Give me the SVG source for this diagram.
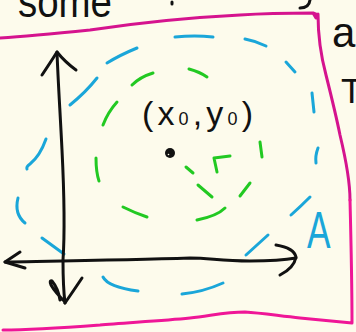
<svg xmlns="http://www.w3.org/2000/svg" width="356" height="332" viewBox="0 0 356 332">
<style>
.ink{fill:none;stroke:#111;stroke-width:3;stroke-linecap:round;stroke-linejoin:round}
.blue{fill:none;stroke:#1AA6D9;stroke-width:3;stroke-linecap:round}
.green{fill:none;stroke:#22C922;stroke-width:3;stroke-linecap:round;stroke-linejoin:round}
.pink{fill:none;stroke-width:3;stroke-linecap:round;stroke-linejoin:round}
.hand{font-family:"Liberation Sans","DejaVu Sans",sans-serif;fill:#111}
</style>
<rect width="356" height="332" fill="#FDFBEC"/>
<g id="top-text">
<text class="hand" x="18" y="17" font-size="44" textLength="94" lengthAdjust="spacingAndGlyphs">some</text>
<path class="ink" d="M172 2 L172 4"/>
<path class="ink" d="M310 0 Q309 8 300 8"/>
</g>
<g id="frame">
<path class="pink" stroke="#D5138E" d="M0 38 C30 36 60 33 90 30 C130 24 180 18 240 15 C270 13 295 13 313 13 L318 15 M313 13 L316 18 M318 14 C318 40 322 60 326 75 C331 95 336 115 340 135 C346 160 350 180 350 200"/>
<path class="pink" stroke="#EF1697" d="M350 200 C351 240 352 290 352 323 C340 322 320 320 300 318 C280 316 262 313 245 312 C225 312 210 316 190 318 C160 321 120 323 100 325 C60 328 30 330 3 330"/>
</g>
<g id="blue-circle">
<path class="blue" d="M175 37 Q195 35 213 37"/>
<path class="blue" d="M245 39 Q256 41 266 46"/>
<path class="blue" d="M286 62 L295 72"/>
<path class="blue" d="M312 93 L314 112"/>
<path class="blue" d="M318 148 Q315 156 316 163"/>
<path class="blue" d="M310 197 Q300 207 291 215"/>
<path class="blue" d="M268 235 L246 255"/>
<path class="blue" d="M223 283 Q203 292 182 294"/>
<path class="blue" d="M103 277 Q108 287 138 291"/>
<path class="blue" d="M42 238 L64 254"/>
<path class="blue" d="M18 198 Q14 214 25 223"/>
<path class="blue" d="M46 139 Q40 156 30 164 Q26 167 27 169"/>
<path class="blue" d="M97 78 Q86 92 70 105"/>
<path class="blue" d="M107 63 Q120 55 137 48"/>
</g>
<g id="green-circle">
<path class="green" d="M132 85 Q140 77 153 73"/>
<path class="green" d="M189 69 Q200 72 207 77"/>
<path class="green" d="M117 102 Q108 112 103 125"/>
<path class="green" d="M96 158 Q96 172 99 181"/>
<path class="green" d="M123 207 Q135 213 147 217"/>
<path class="green" d="M197 220 Q217 216 225 208"/>
<path class="green" d="M260 142 L262 157"/>
<path class="green" d="M250 183 L240 196"/>
<path class="green" d="M198 185 L212 197"/>
<path class="green" d="M186 167 L193 173"/>
<path class="green" d="M217 172 L214 158 L230 156"/>
</g>
<g id="axes">
<path class="ink" d="M57 52 C58 80 60 110 62 150 C64 190 65 230 63 260 C63 280 64 295 65 303"/>
<path class="ink" d="M42 75 Q52 60 57 52 Q65 62 76 70"/>
<path class="ink" d="M65 303 Q74 290 82 278 M65 302 Q55 292 51 285 Q49 280 52 281 Q58 288 60 300"/>
<path class="ink" d="M5 262 C60 261 130 260 190 258 C210 258 220 261 250 261 C270 261 285 260 296 258"/>
<path class="ink" d="M20 252 L5 262 L25 268"/>
<path class="ink" d="M276 245 Q294 248 296 257 Q294 268 280 275"/>
</g>
<g id="point">
<circle cx="170" cy="153" r="5" fill="#111"/>
<circle cx="168.5" cy="154.5" r="0.8" fill="#FDFBEC"/>
<text class="hand" x="142" y="125" font-size="34" textLength="111" lengthAdjust="spacing">(x<tspan font-size="18">0</tspan>,y<tspan font-size="18">0</tspan>)</text>
</g>
<g id="labels">
<text class="hand" x="0" y="0" font-size="52" style="fill:#1AA6D9" transform="translate(307,248) scale(0.68,1)">A</text>
<text class="hand" x="332" y="47" font-size="42">a</text>
<text class="hand" x="341" y="103" font-size="35">T</text>
</g>
</svg>
